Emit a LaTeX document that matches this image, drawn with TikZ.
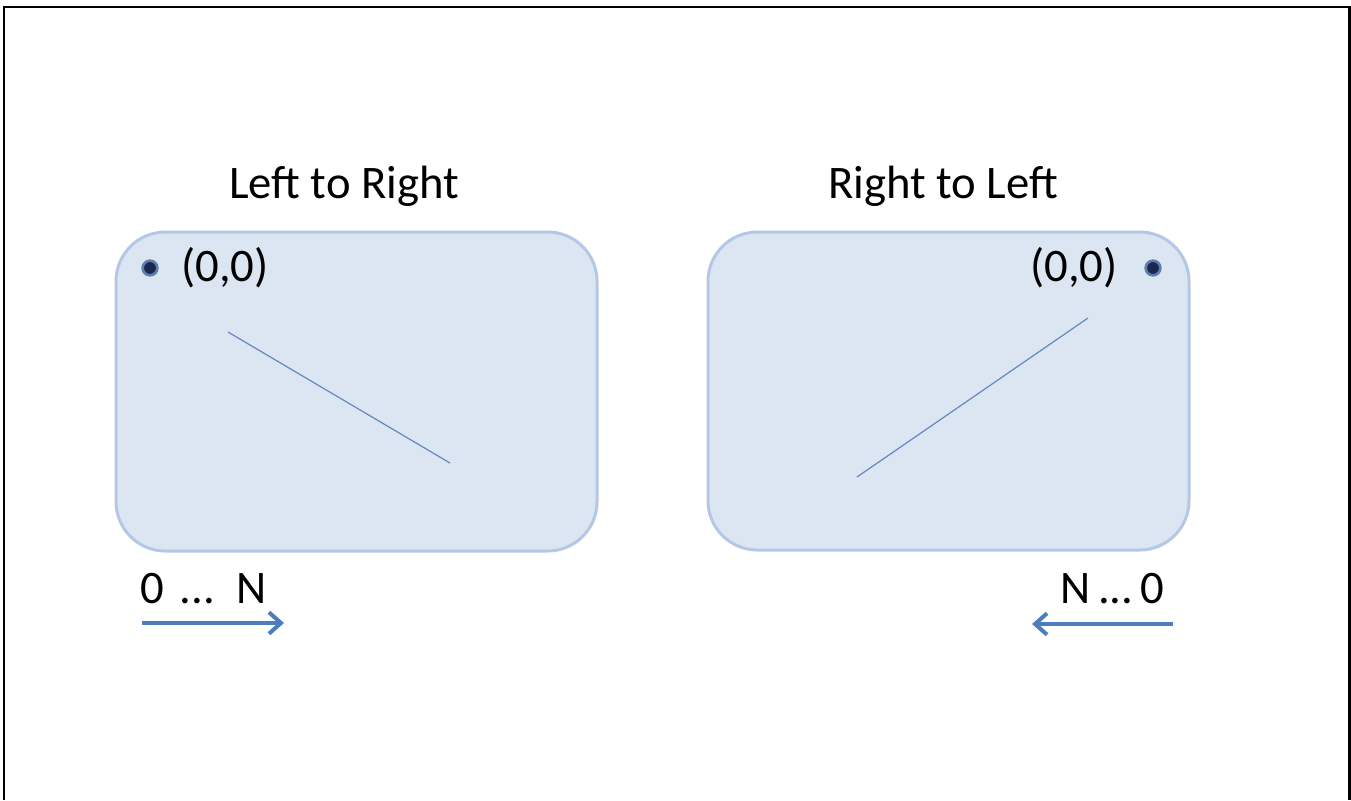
\documentclass[tikz,border=0pt]{standalone}
\usepackage{fontspec}
\setmainfont{Carlito}
\usetikzlibrary{arrows.meta}
\definecolor{boxfill}{RGB}{220,229,242}
\definecolor{boxedge}{RGB}{180,200,230}
\definecolor{diag}{RGB}{100,135,190}
\definecolor{arrowc}{RGB}{74,126,190}
\definecolor{dotin}{RGB}{25,40,75}
\definecolor{dotring}{RGB}{95,125,175}
\tikzset{
  panel/.style={fill=boxfill, draw=boxedge, line width=2.25pt, rounded corners=37pt},
  label/.style={font=\fontsize{35}{38}\selectfont, inner sep=0pt, text=black},
  small/.style={font=\fontsize{35}{38}\selectfont, inner sep=0pt, text=black},
  origin/.style={circle, fill=dotin, draw=dotring, line width=2pt, minimum size=11pt, inner sep=0pt},
  diagline/.style={draw=diag, line width=0.9pt},
  dirarrow/.style={draw=arrowc, line width=3pt, -{Straight Barb[length=9pt,width=16pt,line width=3pt]}},
  frame/.style={draw=black, line width=2pt}
}
\begin{document}
\begin{tikzpicture}[x=0.75pt, y=-0.75pt]
\useasboundingbox (0,0) rectangle (1351,800);
% frame (top, left, right)
\draw[frame] (4,800) -- (4,7) -- (1349.5,7) -- (1349.5,800);
% titles
\node[label] (t1) at (344,186) {Left to Right};
\node[label] (t2) at (943,186) {Right to Left};
% panels
\draw[panel] (116,232) rectangle (597,551);
\draw[panel] (708,232) rectangle (1189,550);
% origins
\node[origin] (o1) at (150,268) {};
\node[origin] (o2) at (1153,268) {};
\node[small, anchor=west] (l1) at (181,268) {(0,0)};
\node[small, anchor=east] (l2) at (1118,268) {(0,0)};
% diagonals
\coordinate (a1) at (228,332);
\coordinate (b1) at (450,463);
\coordinate (a2) at (1088,318);
\coordinate (b2) at (857,477);
\draw[diagline] (a1) -- (b1);
\draw[diagline] (a2) -- (b2);
% ranges
\node[small, anchor=west] (r1) at (140,589) {0\kern4pt\ ...\ \ N};
\node[small, anchor=east] (r2) at (1164,589) {N\kern-2pt\ ...\kern-3pt\ 0};
\coordinate (s1) at (142,623);
\coordinate (e1) at (284,623);
\coordinate (s2) at (1173,624);
\coordinate (e2) at (1032,624);
\draw[dirarrow] (s1) -- (e1);
\draw[dirarrow] (s2) -- (e2);
\end{tikzpicture}
\end{document}
